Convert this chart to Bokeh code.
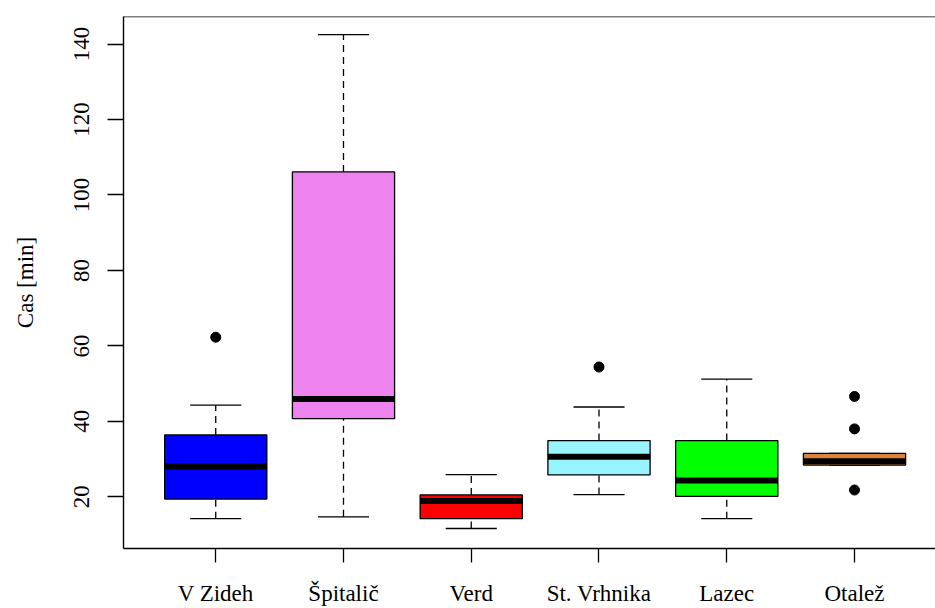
from bokeh.plotting import figure
from bokeh.models import ColumnDataSource, FixedTicker, Range1d, Span
from bokeh.embed import file_html
from bokeh.resources import INLINE

# Travel time per site (minutes): five-number summaries and outliers
sites = ["V Zideh", "Špitalič", "Verd", "St. Vrhnika", "Lazec", "Otalež"]
lower_whisker = [14.2, 14.7, 11.6, 20.6, 14.2, 28.4]
q1 = [19.4, 40.7, 14.2, 25.8, 20.1, 28.4]
median = [28.0, 45.9, 18.9, 30.6, 24.3, 29.4]
q3 = [36.4, 106.1, 20.5, 34.9, 34.9, 31.5]
upper_whisker = [44.3, 142.5, 25.9, 43.8, 51.2, 31.5]
box_colors = ["#0000FF", "#EE82EE", "#FF0000", "#98F5FF", "#00FF00", "#D9843A"]

outlier_site = ["V Zideh", "St. Vrhnika", "Otalež", "Otalež", "Otalež"]
outlier_value = [62.3, 54.4, 46.6, 38.0, 21.8]

y_ticks = [20, 40, 60, 80, 100, 120, 140]

FONT = "Liberation Serif"
BOX_WIDTH = 0.8
STAPLE_HALF = 0.2

pos = list(range(1, len(sites) + 1))
src = ColumnDataSource(dict(
    x=pos,
    x0=[p - BOX_WIDTH / 2 for p in pos],
    x1=[p + BOX_WIDTH / 2 for p in pos],
    s0=[p - STAPLE_HALF for p in pos],
    s1=[p + STAPLE_HALF for p in pos],
    lw=lower_whisker, q1=q1, med=median, q3=q3, uw=upper_whisker,
    color=box_colors,
))
out_src = ColumnDataSource(dict(
    x=[sites.index(s) + 1 for s in outlier_site],
    y=outlier_value,
))

p = figure(
    width=935, height=608,
    x_range=Range1d(0.278, 6.634), y_range=Range1d(6.3, 147.3),
    output_backend="svg", toolbar_location=None,
    min_border_left=123, min_border_top=16, min_border_bottom=57, min_border_right=0,
)
p.xgrid.visible = False
p.ygrid.visible = False
p.outline_line_color = None
p.background_fill_color = "white"
p.border_fill_color = "white"

# top edge of the plotting box
p.add_layout(Span(location=147.3, dimension="width", line_color="black", line_width=1.4))

# whiskers (dashed) and staples
p.segment(x0="x", y0="q3", x1="x", y1="uw", source=src, line_color="black",
          line_width=1.3, line_dash="7 5")
p.segment(x0="x", y0="lw", x1="x", y1="q1", source=src, line_color="black",
          line_width=1.3, line_dash="7 5")
p.segment(x0="s0", y0="uw", x1="s1", y1="uw", source=src, line_color="black", line_width=1.3)
p.segment(x0="s0", y0="lw", x1="s1", y1="lw", source=src, line_color="black", line_width=1.3)

# boxes and medians
p.vbar(x="x", width=BOX_WIDTH, bottom="q1", top="q3", source=src,
       fill_color="color", line_color="black", line_width=1.3)
p.segment(x0="x0", y0="med", x1="x1", y1="med", source=src, line_color="black",
          line_width=6)

# outliers
p.scatter(x="x", y="y", source=out_src, size=10, color="black")

# axes
p.xaxis.ticker = FixedTicker(ticks=pos)
p.xaxis.major_label_overrides = {i + 1: s for i, s in enumerate(sites)}
p.yaxis.ticker = FixedTicker(ticks=y_ticks)
p.yaxis.axis_label = "Cas [min]"
p.yaxis.major_label_orientation = "vertical"

for ax in (p.xaxis, p.yaxis):
    ax.axis_line_color = "black"
    ax.axis_line_width = 1.4
    ax.major_tick_line_color = "black"
    ax.major_tick_line_width = 1.3
    ax.major_tick_in = 0
    ax.minor_tick_line_color = None
    ax.major_label_text_font = FONT
    ax.major_label_text_font_size = "23px"
    ax.major_label_text_font_style = "normal"
    ax.major_label_text_color = "black"
    ax.axis_label_text_font = FONT
    ax.axis_label_text_font_size = "23px"
    ax.axis_label_text_font_style = "normal"
    ax.axis_label_text_color = "black"

p.xaxis.major_tick_out = 14
p.xaxis.major_label_standoff = 18
p.yaxis.major_tick_out = 16
p.yaxis.major_label_standoff = 18
p.yaxis.axis_label_standoff = 34

open("out.html", "w").write(file_html(p, INLINE))
